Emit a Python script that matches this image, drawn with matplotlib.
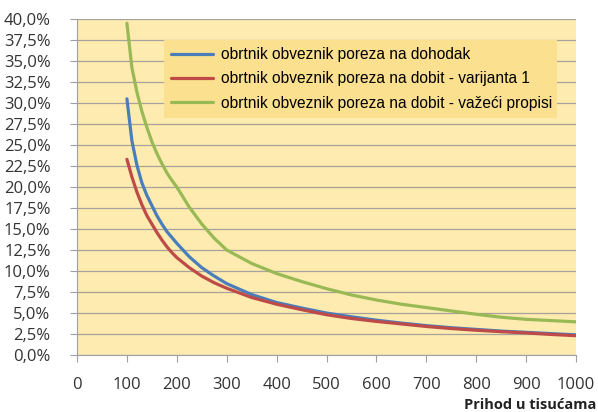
import matplotlib
matplotlib.use("Agg")
import matplotlib.pyplot as plt
from matplotlib.ticker import FuncFormatter

# --- data ---
prihod = [100, 110, 120, 130, 140, 150, 160, 170, 180, 190, 200, 225, 250, 275,
          300, 350, 400, 450, 500, 550, 600, 650, 700, 750, 800, 850, 900, 950, 1000]
dohodak = [30.5, 25.5, 22.6, 20.5, 19.0, 17.8, 16.6, 15.6, 14.7, 14.0, 13.3,
           11.7, 10.4, 9.4, 8.5, 7.2, 6.25, 5.6, 5.0, 4.55, 4.15, 3.8, 3.5,
           3.25, 3.05, 2.85, 2.7, 2.55, 2.4]
dobit_var1 = [23.3, 21.2, 19.4, 17.9, 16.6, 15.6, 14.6, 13.7, 12.9, 12.2, 11.6,
              10.4, 9.4, 8.6, 7.95, 6.85, 6.05, 5.4, 4.8, 4.35, 4.0, 3.7, 3.4,
              3.15, 2.95, 2.78, 2.63, 2.45, 2.3]
dobit_vazeci = [39.5, 34.2, 31.3, 29.0, 27.1, 25.4, 24.0, 22.8, 21.7, 20.8, 20.0,
                17.6, 15.6, 13.9, 12.5, 10.9, 9.7, 8.75, 7.9, 7.15, 6.55, 6.05,
                5.65, 5.25, 4.85, 4.5, 4.25, 4.1, 3.95]

labels = ["obrtnik obveznik poreza na dohodak",
          "obrtnik obveznik poreza na dobit - varijanta 1",
          "obrtnik obveznik poreza na dobit - važeći propisi"]
colors = ["#4A7EBB", "#BE4B48", "#98B954"]

fig = plt.figure(figsize=(5.98, 4.12), dpi=100)
ax = fig.add_axes([0.1288, 0.1383, 0.8344, 0.8155])
ax.set_facecolor("#FDEBB0")

for ys, lab, c in zip([dohodak, dobit_var1, dobit_vazeci], labels, colors):
    ax.plot(prihod, ys, color=c, linewidth=2.3, label=lab,
            solid_capstyle="round", solid_joinstyle="round")

ax.set_xlim(0, 1000)
ax.set_ylim(0, 40)
ax.set_xticks(range(0, 1001, 100))
ax.set_yticks([i * 2.5 for i in range(17)])
ax.yaxis.set_major_formatter(FuncFormatter(lambda v, p: f"{v:.1f}%".replace(".", ",")))
ax.grid(True, axis="y", color="#A8A39A", linewidth=0.9)
ax.set_axisbelow(True)

for s in ["top", "right"]:
    ax.spines[s].set_visible(False)
for s in ["left", "bottom"]:
    ax.spines[s].set_color("#A0A0A0")
ax.tick_params(axis="both", colors="#A0A0A0", length=5, labelcolor="#333333",
               labelsize=12)
ax.tick_params(axis="y", pad=14)
ax.tick_params(axis="x", pad=11)
for t in ax.get_xticklabels() + ax.get_yticklabels():
    t.set_fontfamily("Open Sans")

fig.text(0.998, 0.0, "Prihod u tisućama", ha="right", va="bottom",
         fontsize=10.5, fontweight="bold", family="Open Sans", color="#222222")

leg = ax.legend(loc="upper left", bbox_to_anchor=(0.174, 0.699, 0.788, 0.2385),
                mode="expand", frameon=True, fancybox=False, borderaxespad=0,
                handlelength=2.7, handletextpad=0.55, labelspacing=0.6,
                borderpad=0.45, prop={"family": "Liberation Sans", "size": 11.2})
leg.get_frame().set_facecolor("#FBE08F")
leg.get_frame().set_edgecolor("none")
leg.get_frame().set_alpha(1)

fig.savefig("out.png", dpi=100)
